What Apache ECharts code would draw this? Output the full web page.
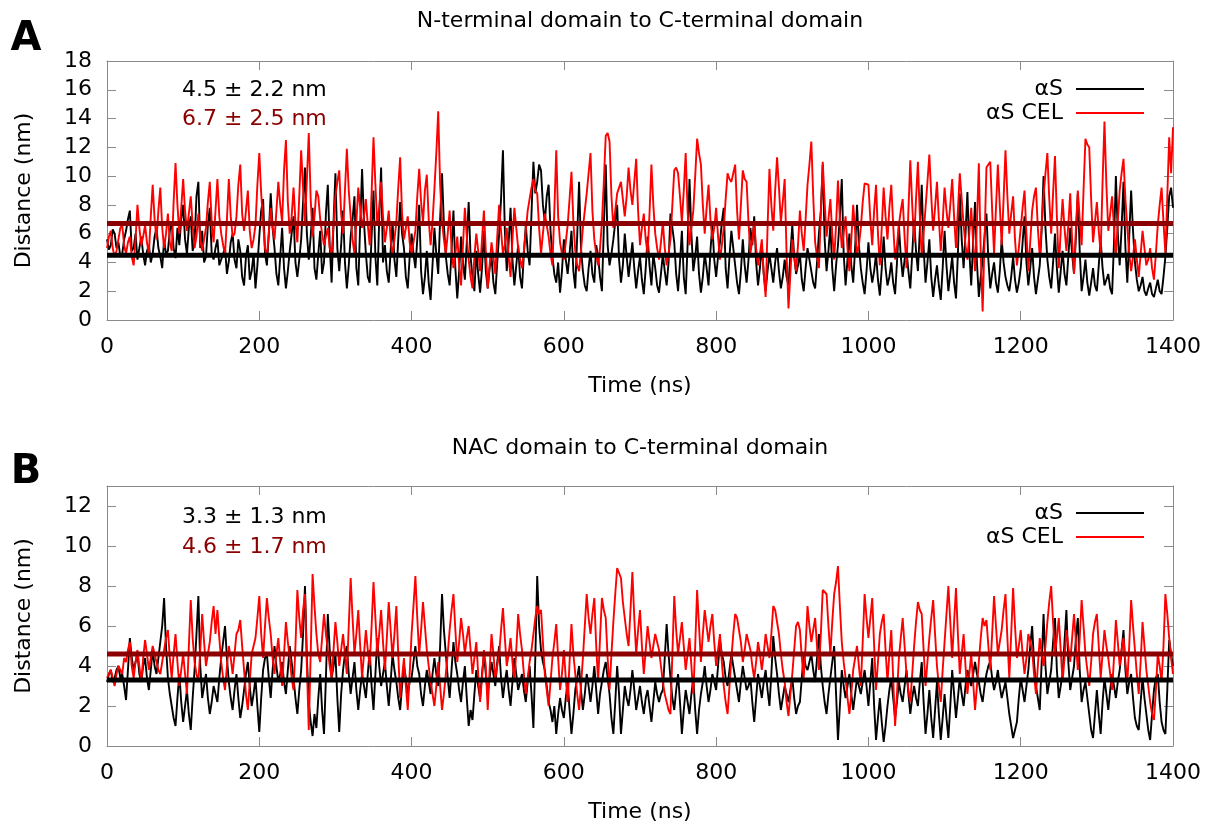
<!DOCTYPE html>
<html>
<head>
<meta charset="utf-8">
<script src="https://cdn.jsdelivr.net/npm/echarts@6/dist/echarts.min.js"></script>
<style>
  html, body { margin: 0; padding: 0; background: #ffffff; }
  #chart { width: 1209px; height: 827px; }
</style>
</head>
<body>
<div id="chart"></div>
<script>
// Sampling interval of the distance traces (ns)
const timeStepNs = 2.5;
const timeRange = [0, 1400];
const timeTickStep = 200;

// Panel titles, series names and summary statistics
const panelTitles = ['N-terminal domain to C-terminal domain', 'NAC domain to C-terminal domain'];
const panelLetters = ['A', 'B'];
const seriesNames = ['αS', 'αS CEL'];
const meanA = [4.5, 6.7];
const sdA = [2.2, 2.5];
const meanB = [3.3, 4.6];
const sdB = [1.3, 1.7];
const yMaxA = 18;
const yMaxB = 13;

// Panel A: N-terminal to C-terminal distance (nm), one value every 2.5 ns
const ntermCterm_aS = [
  5.6,4.9,5.2,6.3,6.0,5.0,5.4,4.4,4.6,5.6,6.2,7.0,7.6,4.8,5.0,6.0,4.2,5.0,5.8,4.6,
  3.8,4.8,5.2,4.0,4.6,5.8,6.4,5.0,4.4,3.6,5.6,4.6,4.8,6.2,6.8,5.0,4.3,6.4,5.2,7.0,
  8.0,5.6,4.6,6.4,7.2,4.8,5.4,8.6,9.6,5.0,6.2,4.0,4.4,6.6,7.8,4.6,4.2,5.0,5.6,3.8,
  3.9,4.6,5.0,3.2,4.1,5.4,6.0,4.2,3.6,5.6,4.8,3.0,2.4,4.4,5.2,2.8,3.4,4.6,2.2,3.8,
  5.8,7.6,8.4,4.6,3.8,6.0,8.8,6.4,5.0,3.2,2.4,4.4,6.4,3.6,2.2,3.4,4.8,6.0,7.2,4.0,
  3.0,4.2,5.6,8.2,10.6,6.0,4.2,5.8,7.8,3.6,2.8,4.6,6.2,3.2,4.0,7.4,9.4,5.2,2.6,6.8,
  10.2,5.0,3.4,5.2,7.6,4.0,2.2,3.8,5.8,7.0,8.6,3.6,2.4,6.6,10.5,6.8,4.6,3.0,2.6,5.8,
  9.0,4.4,2.4,7.0,10.6,4.0,5.2,3.4,2.6,4.8,6.8,4.2,3.0,5.6,8.2,6.0,5.0,3.0,2.2,4.4,
  6.0,4.6,3.6,5.6,8.0,3.4,1.8,3.0,4.8,2.6,1.4,3.8,6.4,4.6,3.2,7.0,10.2,6.6,4.4,3.2,
  2.4,4.8,7.6,3.6,1.5,3.4,5.8,4.0,2.8,5.4,8.2,4.4,3.0,2.0,4.8,3.2,1.9,3.6,6.2,3.4,
  2.2,3.6,4.4,2.6,1.8,4.0,6.0,8.4,11.8,6.2,3.4,5.4,7.8,4.2,2.4,3.8,5.2,3.0,2.2,4.6,
  6.6,4.8,3.8,7.4,11.0,8.8,9.6,10.8,10.4,8.0,6.8,8.6,9.4,6.2,4.4,3.2,2.6,4.0,1.9,3.4,
  5.6,4.2,3.2,4.6,6.2,3.4,2.2,5.8,9.6,5.0,3.4,2.4,2.0,3.6,4.8,3.2,2.6,5.2,4.4,3.0,
  2.0,6.4,10.8,5.2,3.8,4.6,5.6,6.8,8.0,4.2,2.6,3.8,6.0,4.4,3.0,4.2,5.4,3.6,2.2,3.4,
  4.4,2.8,1.8,3.6,5.8,3.8,2.4,4.6,3.6,2.4,1.9,3.2,4.6,3.4,2.4,4.0,7.4,6.4,5.4,3.2,
  2.0,4.0,6.2,3.0,1.8,5.2,9.8,6.0,3.4,4.4,5.8,3.2,1.9,3.0,4.6,3.6,2.4,4.8,6.6,4.2,
  3.0,4.4,5.4,6.8,7.8,3.6,2.2,4.4,6.2,5.0,3.8,2.6,1.8,3.4,5.6,3.8,2.6,4.2,6.4,5.2,
  7.2,4.0,2.4,3.6,5.2,3.2,2.0,3.4,4.6,3.6,2.6,4.0,5.0,3.4,2.2,3.0,4.2,3.0,2.4,4.6,
  6.6,4.4,3.2,3.8,4.6,2.8,2.0,3.6,5.0,4.2,3.4,2.6,2.2,4.0,6.0,7.6,10.8,5.6,3.4,4.8,
  6.6,3.6,2.0,3.8,5.2,7.2,9.8,4.6,2.4,4.2,6.0,3.8,2.6,5.0,8.0,5.2,3.6,2.6,1.8,3.4,
  5.4,3.6,2.6,3.4,4.6,2.8,1.7,3.6,5.8,3.6,2.4,3.0,4.0,2.6,1.8,4.0,6.6,4.4,3.0,4.2,
  4.8,3.4,2.2,4.6,7.0,4.8,3.4,6.2,9.4,5.0,2.6,4.0,5.6,3.0,1.6,2.8,3.8,2.4,1.4,3.6,
  6.2,3.8,2.0,3.2,4.4,2.6,1.5,4.6,8.8,5.6,3.6,6.0,8.9,4.8,2.4,5.4,8.2,4.0,1.6,3.0,
  4.2,5.8,7.4,4.2,2.2,3.2,4.0,2.6,1.9,3.4,5.6,4.0,3.0,2.4,2.0,3.0,4.4,2.8,1.9,2.6,
  3.6,5.4,7.2,4.0,2.4,3.6,5.0,3.0,1.8,2.8,3.8,6.2,10.0,6.4,4.2,3.0,2.2,4.0,6.0,3.6,
  1.9,3.4,4.8,3.2,2.4,4.4,6.4,4.6,3.2,5.8,8.8,4.8,2.0,3.0,4.2,2.6,1.7,2.6,3.6,2.4,
  2.0,3.8,5.6,3.6,2.4,2.8,3.2,2.2,1.8,5.4,10.0,6.0,3.8,6.4,9.6,5.0,2.6,5.8,9.0,6.2,
  4.0,2.8,2.0,2.4,3.0,2.0,1.7,2.2,2.6,1.8,1.6,2.2,2.8,2.0,1.8,3.0,4.4,6.4,8.6,9.2,
  7.8
];
const ntermCterm_aSCEL = [
  5.0,5.8,6.2,5.0,4.4,4.8,5.6,6.4,6.6,5.2,4.6,5.4,5.8,4.4,3.8,5.6,8.0,6.4,5.2,5.8,
  6.6,5.4,4.6,7.2,9.4,7.0,5.6,7.6,9.2,6.4,5.0,6.0,7.4,5.4,4.8,8.2,10.9,8.0,6.0,7.8,
  9.8,7.6,6.2,7.4,8.6,6.6,5.0,5.8,7.4,5.6,4.8,5.6,6.4,8.2,9.6,6.8,5.4,7.6,9.8,7.2,
  6.0,5.2,4.6,7.0,9.8,7.2,5.8,6.0,7.2,9.4,10.8,7.4,6.2,7.6,9.0,6.2,5.0,5.6,6.6,9.4,
  11.6,8.8,6.8,5.0,4.4,6.0,7.8,6.4,5.6,7.6,9.6,8.0,6.8,10.4,12.5,8.2,6.0,7.2,9.2,6.8,
  5.4,8.6,11.8,9.2,6.6,9.8,13.0,8.4,5.8,7.2,9.0,8.6,7.0,6.0,5.2,5.8,6.4,5.0,4.6,6.6,
  8.6,9.6,10.4,7.4,6.0,9.0,11.9,9.0,7.2,5.6,4.6,6.8,9.2,7.8,6.4,7.2,8.4,6.6,5.2,8.8,
  12.7,9.4,6.6,7.8,9.6,7.2,5.4,6.4,7.6,5.6,4.4,5.6,6.8,9.2,11.3,7.4,5.6,6.4,7.2,5.4,
  4.6,5.4,6.2,8.6,10.5,8.2,6.8,9.0,10.1,7.0,5.2,6.8,9.1,11.6,14.5,9.4,6.8,5.6,4.6,6.0,
  7.6,5.0,3.6,4.6,5.8,3.8,2.4,5.2,7.8,5.8,4.2,3.0,2.2,4.4,6.0,4.8,3.4,5.6,7.6,4.8,
  2.2,3.8,5.4,4.4,3.2,5.8,8.0,6.2,4.6,5.2,6.4,4.4,3.0,5.6,7.8,6.4,5.0,4.2,3.6,4.8,
  6.2,7.6,8.4,9.2,9.8,9.0,8.8,6.4,4.6,6.0,7.4,6.6,5.8,4.6,3.8,7.6,11.8,7.2,5.4,4.6,
  4.2,5.4,6.6,8.4,10.3,6.8,4.8,3.8,3.4,4.8,6.4,7.6,8.8,10.2,11.6,7.6,5.6,4.6,3.8,5.0,
  6.8,9.6,12.8,13.0,12.4,8.6,6.4,7.6,8.8,9.2,9.6,8.4,7.2,8.6,10.6,9.0,8.0,9.6,11.2,7.6,
  5.2,6.4,7.4,5.6,4.6,7.4,10.8,8.0,6.0,5.0,4.2,5.4,6.8,5.0,3.8,4.6,5.6,8.0,10.4,10.6,
  10.2,8.6,6.8,9.0,11.6,7.6,5.2,6.4,7.6,10.0,12.6,11.6,10.8,8.0,6.0,7.8,9.4,7.0,5.6,6.4,
  7.8,5.8,4.2,5.2,6.4,8.4,10.2,9.8,9.6,10.2,10.8,7.6,5.6,8.0,10.4,9.8,9.6,6.8,4.6,5.6,
  6.8,5.0,3.8,4.6,5.6,3.2,1.6,6.4,10.5,8.0,6.2,9.0,11.3,9.2,6.8,8.2,9.8,4.6,0.8,3.2,
  5.6,4.4,3.4,5.2,7.6,6.0,4.8,7.0,9.4,10.8,12.4,8.6,5.4,4.4,3.6,7.4,11.0,8.2,5.8,7.0,
  8.4,6.0,4.2,6.6,9.7,7.0,5.0,6.0,7.2,5.0,3.4,5.6,8.0,6.2,4.6,5.2,6.4,8.2,9.5,9.6,
  9.4,7.0,5.2,7.6,9.4,6.0,3.8,6.4,9.2,7.2,5.6,7.8,9.4,6.6,4.2,5.2,6.6,7.6,8.4,5.8,
  3.6,7.6,11.1,8.0,5.4,8.4,11.0,7.2,4.4,6.0,7.8,9.6,11.5,8.6,6.2,7.8,9.6,7.0,4.8,6.8,
  9.2,7.6,6.4,8.0,9.8,7.2,5.0,7.6,10.2,8.4,6.6,5.2,4.2,6.0,7.8,5.4,3.4,6.8,10.9,4.6,
  0.6,5.6,10.6,10.8,11.0,7.6,4.6,7.8,10.8,8.0,5.2,8.4,11.8,8.6,6.0,7.4,8.6,5.6,3.8,5.0,
  6.4,7.8,9.0,6.0,3.4,5.4,7.6,8.6,9.2,6.4,4.4,6.6,8.6,10.2,11.6,8.4,6.0,8.8,11.4,7.2,
  3.6,6.2,8.4,6.4,4.8,6.6,8.8,5.6,3.2,6.4,9.0,7.0,5.2,9.0,12.6,12.2,12.0,8.4,5.4,6.8,
  8.2,6.2,4.6,9.6,13.8,9.4,6.2,7.4,8.6,6.4,4.4,6.8,9.0,10.2,11.2,8.4,6.4,4.6,3.4,4.4,
  5.6,4.2,3.0,4.6,6.2,5.0,3.8,4.2,5.0,3.6,2.8,4.6,6.6,8.0,9.2,6.8,4.6,8.6,12.7,10.2,
  13.4
];

// Panel B: NAC to C-terminal distance (nm), one value every 2.5 ns
const nacCterm_aS = [
  3.2,3.6,3.8,3.2,3.4,3.8,4.0,3.4,3.6,3.0,2.3,3.8,5.4,4.4,3.8,4.2,4.6,3.6,3.2,4.0,
  4.4,3.4,2.8,3.8,4.8,4.0,3.6,4.4,5.2,6.0,7.4,5.0,3.4,2.6,2.0,1.4,1.0,2.4,3.6,2.2,
  1.2,2.0,2.8,1.6,0.8,2.4,3.8,5.6,7.5,4.0,2.4,3.0,3.6,2.4,1.6,2.2,3.0,2.6,2.2,3.4,
  4.4,5.2,6.0,4.4,3.2,2.4,1.8,2.8,3.6,2.4,1.4,2.0,2.8,3.6,4.2,3.0,2.0,2.6,3.4,2.0,
  0.7,2.4,3.8,4.4,4.6,3.4,2.4,3.8,5.0,4.0,3.2,3.6,4.2,3.2,2.6,3.8,5.0,4.2,3.4,2.4,
  1.6,2.8,3.8,5.6,8.0,4.4,2.2,1.2,0.5,1.6,0.9,2.4,3.6,1.8,0.6,3.4,6.6,4.8,3.4,4.0,
  4.6,2.4,0.7,2.6,3.8,4.6,5.0,3.6,2.6,3.4,4.2,2.8,1.8,2.8,3.6,3.0,2.4,3.6,4.8,3.0,
  1.8,3.6,5.4,4.0,3.0,3.6,4.2,3.0,2.0,3.2,4.6,3.8,3.2,2.4,1.8,3.0,4.0,3.4,2.6,3.2,
  3.4,4.2,5.0,4.0,3.6,2.6,2.0,3.0,3.8,3.2,2.6,3.6,4.4,3.6,3.0,5.0,7.6,5.8,4.6,3.4,
  2.4,3.8,5.2,4.2,3.6,2.8,2.2,3.2,4.0,2.4,1.0,1.8,1.3,2.6,3.8,3.0,2.4,3.6,4.6,3.6,
  2.6,3.4,4.2,3.6,3.0,4.2,5.0,3.4,2.4,3.2,3.8,2.8,2.0,3.2,4.4,3.6,2.8,3.2,3.6,2.8,
  2.2,3.2,4.0,2.6,0.9,4.4,8.5,6.0,4.8,4.2,3.8,3.0,2.2,1.8,1.2,2.0,0.6,1.6,2.4,1.8,
  1.4,2.4,3.2,1.8,0.6,1.6,2.8,3.4,4.0,2.8,1.8,2.6,3.6,3.0,2.2,3.0,4.0,2.8,1.6,2.6,
  3.2,3.8,4.2,3.4,2.6,1.4,0.6,2.2,4.0,2.6,0.6,1.8,3.0,2.4,2.0,2.8,3.8,2.8,1.8,2.4,
  3.0,2.2,1.6,2.4,2.8,2.0,1.2,2.2,3.2,2.6,2.2,2.6,2.8,4.4,6.1,4.6,3.4,2.4,1.8,2.8,
  3.6,2.2,0.6,1.8,2.8,2.2,1.6,2.6,3.4,1.8,0.6,1.8,2.6,3.2,4.0,3.0,2.2,2.8,3.6,3.2,
  2.8,4.0,5.3,4.6,4.2,3.4,3.0,3.8,4.6,4.0,3.4,2.8,2.2,3.2,4.0,3.4,2.8,3.0,3.4,2.2,
  1.2,2.4,3.6,3.0,2.4,3.2,3.8,2.8,2.0,3.6,5.5,4.4,3.6,2.6,1.8,2.4,3.0,2.6,2.2,2.8,
  3.4,2.4,1.6,2.0,2.2,3.4,4.6,4.0,3.8,4.2,4.6,3.8,3.2,4.4,5.6,4.0,3.0,2.2,1.6,2.6,
  3.4,4.2,5.0,2.6,0.3,2.0,3.8,3.0,2.4,3.0,3.6,2.6,1.8,2.6,3.4,3.0,2.6,3.2,3.8,3.0,
  2.0,3.2,4.4,2.0,0.3,1.4,2.4,1.2,0.2,1.0,2.0,2.8,3.4,2.4,1.4,2.2,3.2,2.6,2.2,3.0,
  3.8,2.6,1.6,2.4,3.0,2.4,2.0,3.2,4.2,2.2,0.6,1.6,2.8,1.4,0.4,1.8,3.2,1.6,0.3,1.4,
  2.6,1.4,0.4,2.0,3.8,2.6,1.4,2.4,3.4,2.6,2.0,3.0,3.8,3.4,3.0,3.6,4.2,3.6,3.2,2.6,
  2.2,3.0,3.6,4.0,4.2,3.4,2.8,3.2,3.8,3.0,2.4,2.8,3.2,2.4,1.6,1.0,0.4,0.8,1.2,2.4,
  3.4,2.8,2.2,3.0,3.8,5.0,6.0,4.2,3.0,2.4,1.8,4.2,6.6,4.0,2.6,3.2,3.8,5.2,6.4,3.8,
  2.4,3.0,3.6,5.2,6.8,4.2,2.8,3.4,4.0,5.4,6.4,3.8,2.2,2.8,3.2,2.4,1.6,0.8,0.4,1.6,
  2.8,1.6,0.6,2.2,3.4,2.6,1.8,2.8,3.6,3.0,2.4,3.2,3.8,4.8,5.8,3.8,2.6,3.2,3.6,2.4,
  1.4,1.0,0.8,2.2,3.4,2.4,1.6,0.8,0.3,1.6,2.8,3.4,3.6,2.2,1.2,0.8,0.6,2.8,5.3,4.6,
  4.0
];
const nacCterm_aSCEL = [
  3.4,3.6,3.8,3.4,3.0,3.6,4.0,3.8,3.6,4.4,4.2,4.8,5.2,4.0,3.4,4.2,4.8,4.0,3.2,4.4,
  5.3,4.6,3.8,4.4,5.0,4.6,4.2,3.8,3.6,4.2,4.8,5.4,5.8,4.4,3.4,4.6,5.6,4.2,3.0,3.8,
  4.6,3.6,2.6,5.0,7.3,5.4,4.2,3.6,3.2,4.8,6.6,5.2,4.0,4.6,5.2,6.2,7.0,5.6,6.8,5.4,
  4.2,3.4,2.8,4.0,5.0,4.4,3.6,4.6,5.6,5.8,6.3,5.0,3.8,2.6,1.8,3.2,4.6,5.0,5.4,6.4,
  7.5,5.6,4.4,6.0,7.4,6.4,5.6,4.4,3.6,4.6,5.4,4.2,3.0,4.6,6.2,5.2,4.4,3.4,2.8,5.0,
  7.8,6.4,5.4,6.8,7.6,4.0,0.8,4.6,8.6,7.0,5.6,4.6,4.2,5.4,6.6,5.6,4.8,4.0,3.4,4.8,
  6.2,5.2,4.0,4.8,5.6,4.6,3.6,6.0,8.4,6.4,4.6,5.6,6.8,5.0,3.4,4.6,5.8,4.8,4.0,6.0,
  8.2,6.4,4.6,5.6,6.8,5.2,3.8,5.4,7.2,5.8,4.4,5.6,7.0,4.6,2.4,3.4,4.4,3.0,1.8,3.6,
  5.6,7.0,8.5,6.4,4.6,5.8,7.2,6.0,4.8,4.0,3.2,2.6,2.0,3.0,4.2,3.0,1.8,2.6,3.6,4.6,
  5.8,6.8,7.6,5.8,4.2,5.2,6.4,5.6,4.6,5.4,6.0,4.8,3.6,4.4,5.2,3.6,2.2,3.4,4.8,4.0,
  1.8,3.8,5.6,4.6,3.4,4.0,4.6,5.8,6.9,5.4,4.0,4.6,5.4,4.2,3.2,4.8,6.6,5.6,4.8,3.6,
  2.6,3.4,4.2,4.8,5.6,6.4,7.0,6.6,6.8,5.2,3.6,2.8,2.0,3.2,4.4,5.2,6.1,4.4,2.8,3.6,
  4.8,3.4,2.2,4.2,6.1,4.6,3.6,2.6,1.8,3.0,4.4,6.0,7.6,6.4,5.6,6.6,7.4,5.0,3.2,5.4,
  7.4,6.8,6.4,4.4,2.8,4.6,6.2,7.6,8.9,8.8,8.4,7.2,6.4,5.6,5.0,6.8,8.7,6.4,4.6,5.8,
  6.8,5.0,3.6,4.8,6.0,5.2,4.4,5.0,5.6,5.2,4.8,4.0,3.2,2.6,2.2,1.8,1.6,4.6,7.5,5.8,
  4.6,5.4,6.2,5.0,3.8,4.6,5.4,4.0,2.6,5.0,7.8,6.0,4.2,5.6,6.8,6.0,5.2,6.0,6.6,5.2,
  4.0,4.8,5.6,4.2,3.0,2.2,1.6,3.0,4.4,5.6,6.6,6.4,6.4,5.2,4.2,4.8,5.6,5.2,4.8,4.0,
  3.4,4.2,5.2,4.6,3.8,4.6,5.6,5.0,4.4,5.6,7.0,6.8,6.8,5.6,4.6,3.8,3.2,2.2,1.5,2.6,
  3.6,4.8,6.0,6.2,5.8,4.4,3.4,5.0,7.0,6.0,5.2,5.8,6.4,5.0,3.8,5.6,7.8,7.8,7.6,6.0,
  4.6,6.2,7.6,8.2,9.0,7.0,5.2,4.2,3.4,2.4,1.6,2.6,3.8,4.4,5.0,4.0,3.0,5.2,7.6,6.4,
  5.4,6.4,7.4,5.0,2.8,4.2,5.6,6.2,6.6,4.8,3.2,4.6,5.8,3.4,1.0,2.6,4.4,5.4,6.4,5.0,
  3.6,2.8,2.2,3.6,5.0,6.2,7.2,6.8,6.6,4.8,3.0,4.2,5.4,6.4,7.3,5.6,4.0,3.0,2.2,3.8,
  5.2,6.6,8.0,6.2,4.4,6.2,7.9,5.6,3.6,4.6,5.6,4.0,2.6,3.6,4.6,3.2,1.8,3.0,4.2,5.4,
  6.4,6.0,6.3,5.0,3.8,5.6,7.5,6.0,4.6,5.2,5.8,6.8,7.6,5.4,3.4,5.6,7.9,6.0,4.4,5.0,
  5.8,4.6,3.6,4.4,5.6,5.2,4.8,3.6,2.6,4.0,5.4,4.6,4.0,5.0,6.2,7.2,8.0,6.2,4.6,5.4,
  6.4,4.8,3.2,4.4,5.8,5.0,4.2,5.4,6.6,5.2,3.8,5.4,7.3,6.0,4.6,3.8,3.0,4.2,5.6,6.2,
  6.6,5.0,3.4,4.6,5.8,5.0,4.4,3.6,2.8,4.4,6.3,5.2,4.0,4.8,5.4,4.2,3.2,5.0,7.3,6.0,
  4.8,3.6,2.6,4.2,6.2,5.0,3.8,3.0,2.2,1.6,1.3,2.8,4.6,4.0,3.2,5.0,7.6,6.6,5.4,4.4,
  3.6
];

const FONT = 'DejaVu Sans';
const FONT_SIZE = 22;
const FRAME = '#8a8a8a';
const BLACK = '#000000';
const RED = '#ff0000';
const DARK_RED = '#8b0000';

const toPoints = arr => arr.map((v, i) => [i * timeStepNs, v]);

const grids = [
  { left: 107, top: 61, width: 1066, height: 259 },
  { left: 107, top: 486, width: 1066, height: 260 }
];

function xAxesFor(g) {
  const common = {
    type: 'value', gridIndex: g, min: timeRange[0], max: timeRange[1], interval: timeTickStep,
    splitLine: { show: false },
    axisLine: { show: true, onZero: false, lineStyle: { color: FRAME, width: 1 } },
    axisTick: { show: true, inside: true, length: 9, lineStyle: { color: FRAME } }
  };
  return [
    Object.assign({}, common, {
      position: 'bottom',
      name: 'Time (ns)', nameLocation: 'middle', nameGap: 55,
      nameTextStyle: { fontFamily: FONT, fontSize: FONT_SIZE, color: BLACK },
      axisLabel: { show: true, margin: 16, fontFamily: FONT, fontSize: FONT_SIZE, color: BLACK,
                   formatter: v => String(v) }
    }),
    Object.assign({}, common, { position: 'top', axisLabel: { show: false } })
  ];
}

function yAxesFor(g, yMax, hideTop) {
  const common = {
    type: 'value', gridIndex: g, min: 0, max: yMax, interval: 2,
    splitLine: { show: false },
    axisLine: { show: true, onZero: false, lineStyle: { color: FRAME, width: 1 } },
    axisTick: { show: true, inside: true, length: 9, lineStyle: { color: FRAME } }
  };
  return [
    Object.assign({}, common, {
      position: 'left',
      name: 'Distance (nm)', nameLocation: 'middle', nameGap: 72,
      nameTextStyle: { fontFamily: FONT, fontSize: FONT_SIZE, color: BLACK },
      axisLabel: { show: true, margin: 15, fontFamily: FONT, fontSize: FONT_SIZE, color: BLACK,
                   showMaxLabel: !hideTop }
    }),
    Object.assign({}, common, { position: 'right', axisLabel: { show: false } })
  ];
}

function traceSeries(name, values, color, axisIdx, z) {
  return {
    name: name, type: 'line', xAxisIndex: axisIdx, yAxisIndex: axisIdx,
    data: toPoints(values), showSymbol: false, symbol: 'none',
    lineStyle: { color: color, width: 1.9 }, itemStyle: { color: color },
    animation: false, z: z
  };
}

function meanSeries(value, color, axisIdx) {
  return {
    name: 'mean', type: 'line', xAxisIndex: axisIdx, yAxisIndex: axisIdx,
    data: [[timeRange[0], value], [timeRange[1], value]],
    showSymbol: false, symbol: 'none', silent: true,
    lineStyle: { color: color, width: 5 }, animation: false, z: 10
  };
}

const statText = (m, s) => m.toFixed(1) + ' ± ' + s.toFixed(1) + ' nm';

function legendFor(top) {
  return {
    data: seriesNames, orient: 'vertical', right: 60, top: top, align: 'right',
    icon: 'rect', itemWidth: 68, itemHeight: 2, itemGap: 2, selectedMode: false,
    textStyle: { fontFamily: FONT, fontSize: FONT_SIZE, color: BLACK, padding: [0, 8, 0, 0] }
  };
}

function label(text, x, y, opts) {
  return {
    type: 'text', x: x, y: y, silent: true,
    style: Object.assign({ text: text, verticalAlign: 'middle', fontFamily: FONT,
                           fontSize: FONT_SIZE, fill: BLACK }, opts || {})
  };
}

const chart = echarts.init(document.getElementById('chart'), null, { renderer: 'canvas' });

chart.setOption({
  backgroundColor: '#ffffff',
  animation: false,
  grid: grids,
  xAxis: [].concat(xAxesFor(0), xAxesFor(1)),
  yAxis: [].concat(yAxesFor(0, yMaxA, false), yAxesFor(1, yMaxB, true)),
  legend: [legendFor(73), legendFor(497)],
  series: [
    traceSeries(seriesNames[0], ntermCterm_aS, BLACK, 0, 2),
    traceSeries(seriesNames[1], ntermCterm_aSCEL, RED, 0, 3),
    meanSeries(meanA[0], BLACK, 0),
    meanSeries(meanA[1], DARK_RED, 0),
    traceSeries(seriesNames[0], nacCterm_aS, BLACK, 2, 2),
    traceSeries(seriesNames[1], nacCterm_aSCEL, RED, 2, 3),
    meanSeries(meanB[0], BLACK, 2),
    meanSeries(meanB[1], DARK_RED, 2)
  ],
  graphic: [
    label(panelTitles[0], 640, 21, { align: 'center' }),
    label(panelTitles[1], 640, 448, { align: 'center' }),
    label(panelLetters[0], 26, 40, { align: 'center', fontSize: 40, fontWeight: 'bold' }),
    label(panelLetters[1], 26, 473, { align: 'center', fontSize: 40, fontWeight: 'bold' }),
    label(statText(meanA[0], sdA[0]), 182, 90),
    label(statText(meanA[1], sdA[1]), 182, 119, { fill: DARK_RED }),
    label(statText(meanB[0], sdB[0]), 182, 517),
    label(statText(meanB[1], sdB[1]), 182, 547, { fill: DARK_RED })
  ]
});
</script>
</body>
</html>
